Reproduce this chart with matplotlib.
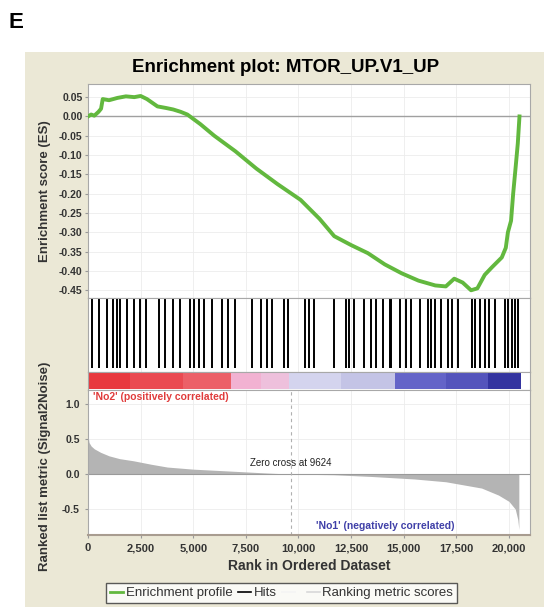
"""GSEA enrichment plot (panel E): MTOR_UP.V1_UP, ES curve + hits + ranked metric."""
import numpy as np
import matplotlib
matplotlib.use("Agg")
import matplotlib.pyplot as plt
from matplotlib.patches import Rectangle
from matplotlib.lines import Line2D

plt.rcParams["font.family"] = ["Liberation Sans", "DejaVu Sans"]

# running enrichment score
es_rank = [0, 150, 300, 500, 620, 700, 1000, 1400, 1800, 2200, 2500, 2800, 3300, 3700,
           4050, 4400, 4720, 5340, 6000, 7000, 8000, 9000, 10100, 11000, 11700, 12500,
           13300, 14100, 14900, 15700, 16500, 17000, 17400, 17800, 18200, 18500, 18850,
           19200, 19660, 19850, 19950, 20100, 20200, 20320, 20420, 20500]
es_val = [0.0, 0.005, 0.002, 0.012, 0.02, 0.045, 0.042, 0.048, 0.052, 0.05, 0.053, 0.045,
          0.026, 0.022, 0.018, 0.012, 0.005, -0.02, -0.05, -0.09, -0.135, -0.175, -0.216,
          -0.265, -0.31, -0.333, -0.354, -0.383, -0.406, -0.425, -0.4375, -0.44, -0.42,
          -0.43, -0.45, -0.445, -0.41, -0.39, -0.365, -0.34, -0.30, -0.27, -0.20, -0.13,
          -0.07, 0.0]

# gene set hit positions
hits = [175, 541, 891, 1177, 1368, 1527, 1845, 2163, 2449, 2767, 3356, 3674, 4039, 4389,
        4835, 5026, 5264, 5503, 5900, 6377, 6663, 6966, 7809, 8206, 8492, 8763, 9320, 9510,
        10306, 10512, 10719, 11705, 12262, 12421, 12628, 13105, 13455, 13693, 14011, 14329,
        14409, 14806, 15124, 15363, 15760, 16158, 16285, 16508, 16794, 17112, 17271, 17589,
        18225, 18384, 18622, 18861, 19052, 19338, 19815, 19974, 20133, 20292, 20451]

# ranked list metric (Signal2Noise)
m_rank = [0, 50, 150, 300, 600, 1000, 1500, 2150, 3000, 3770, 5000, 6920, 8500, 9624,
          11690, 13500, 15500, 17000, 18700, 19500, 20000, 20300, 20420, 20470]
m_val = [0.55, 0.45, 0.40, 0.36, 0.31, 0.26, 0.22, 0.19, 0.14, 0.10, 0.07, 0.04, 0.015, 0.0,
         -0.01, -0.035, -0.07, -0.11, -0.20, -0.30, -0.39, -0.50, -0.65, -0.79]
zero_cross = 9624

# heat bar bands under the hits
band_start = [0, 2000, 4500, 6775, 8200, 9560, 12000, 14580, 17000, 19000]
band_end = [2000, 4500, 6775, 8200, 9560, 12000, 14580, 17000, 19000, 20550]
band_color = ["#e8393f", "#ea4a52", "#ec6068", "#f2b2d2", "#eec0dc", "#d4d4ee",
              "#c4c4e6", "#6464c8", "#5454bc", "#3434a0"]

es_ticks = [0.05, 0.0, -0.05, -0.10, -0.15, -0.20, -0.25, -0.30, -0.35, -0.40, -0.45]
m_ticks = [1.0, 0.5, 0.0, -0.5]
x_ticks = [0, 2500, 5000, 7500, 10000, 12500, 15000, 17500, 20000]

GREEN = "#62b83e"
TICK = dict(fontsize=7.5, color="#333333", fontweight="bold")
W, H = 544, 607
XMAX = 21000


def box(top, bottom, left=88, right=530):
    return [left / W, 1 - bottom / H, (right - left) / W, (bottom - top) / H]


fig = plt.figure(figsize=(W / 100, H / 100), dpi=100)
fig.patches.append(Rectangle((25 / W, 0), 1 - 25 / W, 1 - 52 / H, transform=fig.transFigure,
                             facecolor="#ebe8d6", edgecolor="none", zorder=-5))
fig.text(9 / W, 1 - 22 / H, "E", fontsize=16, fontweight="bold", va="center")
fig.text(286 / W, 1 - 68 / H, "Enrichment plot: MTOR_UP.V1_UP", fontsize=13.5,
         fontweight="bold", ha="center", va="center")

ax1 = fig.add_axes(box(84, 298))
ax2 = fig.add_axes(box(298, 372))
ax3 = fig.add_axes(box(372, 390))
ax4 = fig.add_axes(box(390, 535))

for ax in (ax1, ax2, ax3, ax4):
    ax.set_xlim(0, XMAX)
    for s in ax.spines.values():
        s.set_color("#a8a8a8"); s.set_linewidth(0.8)

# ES curve
ax1.plot(es_rank, es_val, color=GREEN, lw=2.8, solid_joinstyle="round", zorder=3)
ax1.axhline(0, color="#a0a0a0", lw=1.0, zorder=2)
ax1.set_ylim(-0.47, 0.084)
ax1.set_yticks(es_ticks)
ax1.set_yticklabels([f"{v:.2f}" for v in es_ticks], **TICK)
ax1.set_xticks(x_ticks); ax1.set_xticklabels([])
ax1.tick_params(axis="x", length=0)
ax1.tick_params(axis="y", length=2, color="#999999", pad=2)
ax1.grid(True, color="#ececec", lw=0.6)
ax1.set_axisbelow(True)

# hits
ax2.vlines(hits, 0.05, 0.98, color="black", lw=1.4)
ax2.set_ylim(0, 1)
ax2.set_xticks(x_ticks); ax2.set_yticks([])
ax2.tick_params(axis="x", length=0, labelbottom=False)
ax2.grid(True, axis="x", color="#ececec", lw=0.6)
ax2.set_axisbelow(True)

# heat bar
for s0, s1, c in zip(band_start, band_end, band_color):
    ax3.broken_barh([(s0, s1 - s0)], (0.05, 0.95), facecolor=c, edgecolor="none")
ax3.set_ylim(0, 1)
ax3.set_xticks([]); ax3.set_yticks([])

# ranked metric
ax4.fill_between(m_rank, 0, m_val, color="#b4b4b4", lw=0)
ax4.axhline(0, color="#9a9a9a", lw=0.8)
ax4.axvline(zero_cross, color="#b0b0b0", lw=0.8, ls=(0, (3, 3)))
ax4.set_ylim(-0.87, 1.2)
ax4.set_yticks(m_ticks)
ax4.set_yticklabels([f"{v:.1f}" for v in m_ticks], **TICK)
ax4.set_xticks(x_ticks)
ax4.set_xticklabels([f"{v:,}" for v in x_ticks], fontsize=8, color="#333333",
                    fontweight="bold")
ax4.tick_params(length=2, color="#999999", pad=4)
ax4.grid(True, color="#ececec", lw=0.6)
ax4.set_axisbelow(True)
ax4.spines["bottom"].set_color("#a89c90"); ax4.spines["bottom"].set_linewidth(1.5)
ax4.text(zero_cross, 0.08, f"Zero cross at {zero_cross}", fontsize=7, ha="center",
         va="bottom", color="#222222")
ax4.text(250, 1.17, "'No2' (positively correlated)", fontsize=7.5, color="#e03c3c",
         fontweight="bold", va="top")
ax4.text(14100, -0.82, "'No1' (negatively correlated)", fontsize=7.5, color="#4040a8",
         fontweight="bold", ha="center", va="bottom")
ax4.set_xlabel("Rank in Ordered Dataset", fontsize=10, color="#333333",
               fontweight="bold", labelpad=4)

fig.text(45 / W, 1 - 191 / H, "Enrichment score (ES)", rotation=90, fontsize=9.5,
         color="#333333", fontweight="bold", ha="center", va="center")
fig.text(45 / W, 1 - 466 / H, "Ranked list metric (Signal2Noise)", rotation=90,
         fontsize=9.5, color="#333333", fontweight="bold", ha="center", va="center")

handles = [Line2D([], [], color=GREEN, lw=2),
           Line2D([], [], color="black", lw=1.2),
           Line2D([], [], color="#f4f4f4", lw=1.2),
           Line2D([], [], color="#d8d8d8", lw=1.2)]
labels = ["Enrichment profile", "Hits", " ", "Ranking metric scores"]
leg = fig.legend(handles, labels, loc="upper left", bbox_to_anchor=(106 / W, 1 - 583 / H),
                 ncol=4, fontsize=9.5, frameon=True, fancybox=False, handlelength=1.0,
                 handletextpad=0.2, columnspacing=0.4, borderpad=0.3, borderaxespad=0)
leg.get_frame().set_edgecolor("#333333"); leg.get_frame().set_linewidth(1.0)
for t in leg.get_texts():
    t.set_color("#333333")

fig.savefig("out.png", dpi=100)
